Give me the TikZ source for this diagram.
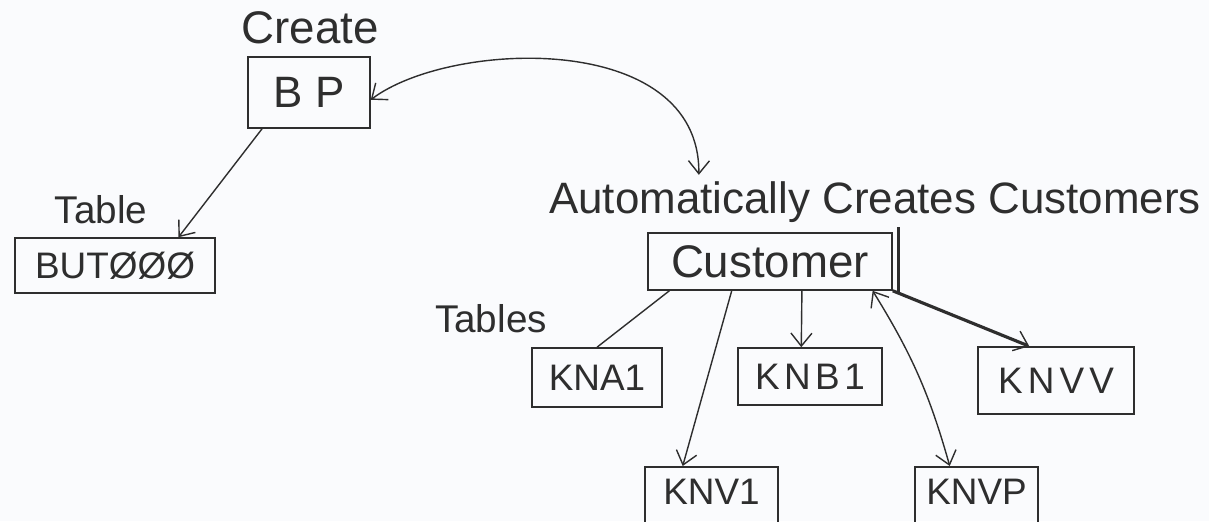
\documentclass[tikz,border=0pt]{standalone}
\usepackage{fontspec}
\setmainfont{Liberation Sans}
\usetikzlibrary{arrows.meta,calc}
\definecolor{ink}{HTML}{2E2E2E}
\definecolor{paper}{HTML}{FAFBFD}
\newcommand{\fsz}[1]{\fontsize{#1}{#1}\selectfont}
\begin{document}
\begin{tikzpicture}[x=0.02cm,y=-0.02cm,
  box/.style={draw=ink,line width=0.9pt,inner sep=0pt,text=ink},
  lbl/.style={inner sep=0pt,text=ink,anchor=base},
  link/.style={draw=ink,line width=0.8pt},
  barb/.tip={Straight Barb[length=2.6mm,width=4.2mm,line width=0.8pt]},
  tipend/.style={-barb},
  tipboth/.style={barb-barb},
  tabfont/.style={font=\fsz{21}},
]
% page
\fill[paper] (0,0) rectangle (1209,521);
\useasboundingbox (0,0) rectangle (1209,521);
\clip (0,0) rectangle (1209,521);

% business partner side
\node[lbl,font=\fsz{26}] (create) at (310,43) {Create};
\node[box,minimum width=2.44cm,minimum height=1.42cm,font=\fsz{25}] (bp) at (309,92.5) {B P};
\node[lbl,font=\fsz{22}] (table) at (101,223) {Table};
\node[box,minimum width=4.0cm,minimum height=1.1cm,font=\fsz{21}] (but) at (115,265.5) {BUTØØØ};

% customer side
\node[lbl,font=\fsz{25}] (auto) at (875,213) {Automatically Creates Customers};
\node[box,minimum width=4.88cm,minimum height=1.14cm,font=\fsz{26}] (cust) at (770,261.5) {Customer};
\draw[ink,line width=1.8pt] ($(cust.north east)+(6,-5)$) -- ($(cust.south east)+(6,2)$);
\node[lbl,font=\fsz{22}] (tables) at (491,332) {Tables};

\node[box,tabfont,minimum width=2.6cm,minimum height=1.18cm] (kna1) at (597,377.5) {KNA1};
\node[box,font=\fsz{21}\addfontfeatures{LetterSpace=12},minimum width=2.88cm,minimum height=1.14cm] (knb1) at (810,376.5) {KNB1};
\node[box,font=\fsz{21}\addfontfeatures{LetterSpace=14},minimum width=3.12cm,minimum height=1.34cm] (knvv) at (1056,380.5) {KNVV};
\node[box,tabfont,anchor=north,minimum width=2.66cm,inner ysep=0.24cm,text depth=1.2cm] (knv1) at (711.5,466) {KNV1};
\node[box,tabfont,anchor=north,minimum width=2.46cm,inner ysep=0.24cm,text depth=1.2cm] (knvp) at (976.5,466) {KNVP};

% connectors
\draw[link,tipend] ($(bp.south west)!0.12!(bp.south east)$) -- ($(but.north west)!0.815!(but.north east)$);
\coordinate (autoin) at ($(auto.north west)!0.23!(auto.north east)$);
\draw[link,tipboth] ($(bp.north east)!0.6!(bp.south east)$) .. controls (450,40) and (700,30) .. ($(autoin)+(0,-6)$);

\draw[link] ($(cust.south west)!0.09!(cust.south east)$) -- (kna1.north);
\draw[link,tipend] ($(cust.south west)!0.344!(cust.south east)$) -- ($(knv1.north west)!0.286!(knv1.north east)$);
\draw[link,tipend] ($(cust.south west)!0.63!(cust.south east)$) -- ($(knb1.north west)!0.44!(knb1.north east)$);
\draw[link,tipboth] ($(cust.south west)!0.918!(cust.south east)$) to[bend left=8] ($(knvp.north west)!0.285!(knvp.north east)$);
\draw[link,line width=1.8pt,-{Straight Barb[length=2.6mm,width=4.2mm,line width=0.8pt]}] (cust.south east) -- ($(knvv.north west)!0.33!(knvv.north east)$);
\end{tikzpicture}
\end{document}
